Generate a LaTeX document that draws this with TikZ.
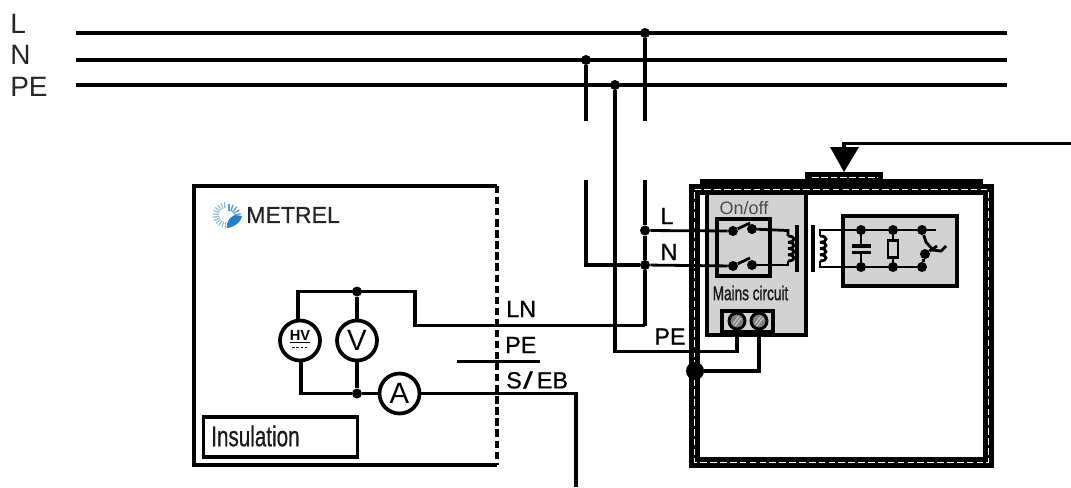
\documentclass[tikz,border=0pt]{standalone}
\usepackage{fontspec}
\setmainfont{Liberation Sans}
\newfontfamily\heavy[FakeBold=1.2]{Liberation Sans}
\newfontfamily\semi[FakeBold=0.7]{Liberation Sans}
\definecolor{boxgray}{HTML}{D2D2D2}
\definecolor{logoblue}{HTML}{1F7FCB}
\definecolor{logolight}{HTML}{8FBFE0}
\tikzset{
  px/.style={x=0.75pt,y=-0.75pt},
  bus/.style={line width=3.4pt},
  wire/.style={line width=2.7pt,line join=miter},
  thin wire/.style={line width=2.1pt},
  jdot/.style={circle,fill=black,inner sep=0pt,minimum size=7.5pt},
  sdot/.style={circle,fill=black,inner sep=0pt,minimum size=7.5pt},
  meter/.style={circle,draw=black,line width=2.8pt,fill=white,minimum size=30pt,inner sep=0pt},
  lbl/.style={inner sep=0pt,font=\semi\fontsize{17.5}{18}\selectfont},
  busl/.style={inner sep=0pt,anchor=west,text=black!85,font=\fontsize{21}{22}\selectfont},
  grayfield/.style={fill=boxgray,draw=black,line width=2.4pt},
  shield/.style={line width=8.25pt,draw=black,line join=miter},
  shieldw/.style={line width=1.2pt,draw=white,dash pattern=on 5pt off 2.4pt},
  terminal/.style={circle,draw=black,line width=2.2pt,fill=gray,minimum size=12pt,inner sep=0pt},
}
\begin{document}
\begin{tikzpicture}[px]
\useasboundingbox (0,0) rectangle (1071,487);
% bus labels
\node[busl] (tL) at (10,23.5) {L};
\node[busl] (tN) at (10,55) {N};
\node[busl] (tPE) at (10,87) {PE};
% bus
\coordinate (Ls) at (76,33); \coordinate (Le) at (1007,33);
\coordinate (Ns) at (76,60); \coordinate (Ne) at (1007,60);
\coordinate (Ps) at (76,85); \coordinate (Pe) at (1007,85);
\draw[bus] (Ls) -- (Le);
\draw[bus] (Ns) -- (Ne);
\draw[bus] (Ps) -- (Pe);
\node[sdot] (jL) at (645,33) {};
\node[sdot] (jN) at (586,60) {};
\node[sdot] (jP) at (615,85) {};
\coordinate (Lb) at (645,121);
\coordinate (Nb) at (586,121);
\draw[wire] (jL) -- (Lb);
\draw[wire] (jN) -- (Nb);
% right enclosure
\coordinate (sh1) at (694.5,189.5); \coordinate (sh2) at (988.5,189.5);
\coordinate (sh3) at (988.5,462.5); \coordinate (sh4) at (694.5,462.5);
\draw[shield] (sh1) -- (sh2) -- (sh3) -- (sh4) -- cycle;
\draw[shieldw] (sh1) -- (sh2) -- (sh3) -- (sh4) -- cycle;
\fill[black] (700,179) rectangle (983,186);
% tab
\fill[black] (805,172) rectangle (883,182);
\draw[white,line width=1pt,dash pattern=on 5pt off 2pt] (812,177.5) -- (878,177.5);
% probe
\coordinate (pr) at (844,145);
\coordinate (prr) at (1071,143.5);
\fill[black] (830,147) -- (859,147) -- (844,172) -- cycle;
\draw[wire] (prr) -- (844,143.5) -- (844,150);
% mains box
\fill[boxgray] (707,195) rectangle (806,335);
\draw[line width=2.4pt] (707,193) -- (707,335) -- (806,335) -- (806,193);
\node[grayfield,minimum width=39.75pt,minimum height=42.75pt,inner sep=0pt] (onoff) at (743.5,247.5) {};
\node[grayfield,minimum width=38.25pt,minimum height=15.75pt,inner sep=0pt] (term) at (747.5,321.5) {};
\node[inner sep=0pt,text=black!70,font=\fontsize{13.5}{15}\selectfont] (onofft) at (744,208) {On/off};
\node[inner sep=0pt,text=black!90] (mct) at (750.5,293) {\scalebox{.68}[1]{\heavy\fontsize{15}{16}\selectfont Mains circuit}};
% secondary box
\node[grayfield,minimum width=85.5pt,minimum height=52.5pt,inner sep=0pt] (sec) at (900,251) {};
% left box
\coordinate (b1) at (497,186); \coordinate (b2) at (194,186);
\coordinate (b3) at (194,465); \coordinate (b4) at (497,465);
\draw[line width=3pt] (b1) -- (b2) -- (b3) -- (b4);
\draw[line width=3.5pt,dash pattern=on 5.5pt off 2.8pt] (b1) -- (b4);
% meters
\node[meter] (HV) at (300,340.5) {};
\node[meter] (V) at (357,340.5) {\fontsize{22}{22}\selectfont V};
\node[meter] (A) at (399.5,393.5) {\fontsize{22}{22}\selectfont A};
\node[inner sep=0pt,font=\fontsize{11}{12}\selectfont\bfseries] (HVt) at (300,337) {\underline{HV}};
\draw[line width=1.4pt,dash pattern=on 2pt off 1.2pt] (292,347.5) -- (309,347.5);
\node[sdot] (jt) at (357,291.5) {};
\node[sdot] (jb) at (357,393.5) {};
\coordinate (c1) at (298,291.5);
\coordinate (c2) at (415,291.5);
\coordinate (c3) at (415,325.5);
\coordinate (LNj) at (645,325.5);
\coordinate (c4) at (301,393.5);
\coordinate (c5) at (576,393.5);
\coordinate (c6) at (576,487);
\draw[wire] (HV.north -| c1) -- (c1) -- (c2) -- (c3) -- (LNj);
\draw[wire] (jt) -- (V.north);
\draw[wire] (V.south) -- (jb);
\draw[wire] (HV.south -| c4) -- (c4) -- (jb) -- (A.west);
\draw[wire] (A.east) -- (c5) -- (c6);
\coordinate (pe1) at (457,361.5); \coordinate (pe2) at (540,361.5);
\draw[wire] (pe1) -- (pe2);
% labels at the plug
\node[lbl,anchor=west] (tLN) at (506,309) {LN};
\node[lbl,anchor=west] (tPE2) at (505,345) {PE};
\node[lbl,anchor=west] (tSEB) at (506,380) {S\hspace{1pt}\scalebox{1.5}[1]{/}\hspace{3pt}EB};
% Insulation
\node[draw=black,line width=2.4pt,minimum width=116pt,minimum height=30pt,inner sep=0pt] (ins) at (280.5,437) {};
\node[inner sep=0pt,anchor=west,text=black!90] (inst) at (211,436) {\scalebox{.72}[1]{\semi\fontsize{21.5}{23}\selectfont Insulation}};
% METREL
\node[inner sep=0pt,anchor=west,text=black!85,font=\semi\fontsize{17.3}{18}\selectfont] (met) at (246,215) {METREL};
\foreach \a in {100,115,...,265}{
  \draw[logolight,line width=0.9pt] ({226+7*cos(\a)},{215-7*sin(\a)}) -- ({227+14.5*cos(\a)},{215-13*sin(\a)});
}
\foreach \a in {10,30,50,70,90}{
  \draw[logoblue!75,line width=1pt] ({229+5*cos(\a)},{216-5*sin(\a)}) -- ({229+12*cos(\a)},{216-12*sin(\a)});
}
\fill[logoblue] (227,228) .. controls (226,222) and (230,217) .. (235,215) -- (242,216) .. controls (241,222) and (235,227) .. (227,228) -- cycle;
% lower feeders
\coordinate (Lt) at (645,180); \coordinate (Nt) at (586,180);
\coordinate (Nc) at (586,265);
\node[sdot] (jLs) at (645,230.5) {};
\node[sdot] (jNs) at (645,265) {};
\coordinate (sec1t) at (788,230.5);
\coordinate (sec1b) at (788,265);
\draw[wire] (Lt) -- (jLs) -- (jNs) -- (LNj) ;
\draw[wire] (Nt) -- (Nc) -- (jNs);
\node[lbl] (tLi) at (667,216) {L};
\node[lbl] (tNi) at (669,252) {N};
\node[lbl] (tPEi) at (670,336.5) {PE};
% switches
\node[sdot] (s1) at (733,231) {};
\node[sdot] (s2) at (752,229) {};
\node[sdot] (s3) at (733,266) {};
\node[sdot] (s4) at (752,265) {};
\draw[thin wire] (jLs) -- (s1);
\draw[thin wire] (jNs) -- (s3);
\draw[thin wire] (s1) -- (750,223);
\draw[thin wire] (s3) -- (750,258);
\draw[thin wire] (s2) -- (sec1t) -- (788,236);
\draw[thin wire] (s4) -- (sec1b) -- (788,261);
\foreach \i in {0,...,3}{
  \draw[thin wire] (788,{236+6.25*\i}) .. controls (796,{236+6.25*\i}) and (796,{242.25+6.25*\i}) .. (788,{242.25+6.25*\i});
}
\coordinate (bar1a) at (797,225); \coordinate (bar1b) at (797,272);
\coordinate (bar2a) at (813,225); \coordinate (bar2b) at (813,272);
\draw[line width=3pt] (bar1a) -- (bar1b);
\draw[line width=3pt] (bar2a) -- (bar2b);
\coordinate (coil2t) at (820,236); \coordinate (coil2b) at (820,261);
\foreach \i in {0,...,3}{
  \draw[thin wire] (820,{236+6.25*\i}) .. controls (828,{236+6.25*\i}) and (828,{242.25+6.25*\i}) .. (820,{242.25+6.25*\i});
}
% secondary circuit
\node[sdot] (d1) at (861,230) {};
\node[sdot] (d2) at (893,230) {};
\node[sdot] (d3) at (922,230) {};
\node[sdot] (d4) at (861,267) {};
\node[sdot] (d5) at (893,267) {};
\node[sdot] (d6) at (922,267) {};
\coordinate (endT) at (936,230);
\draw[thin wire] (coil2t) -- (820,230) -- (d1) -- (d2) -- (d3) -- (endT);
\draw[thin wire] (coil2b) -- (820,267) -- (d4) -- (d5) -- (d6);
% capacitor
\draw[thin wire] (d1) -- (861,246);
\draw[thin wire] (d4) -- (861,252);
\draw[wire] (852,246) -- (871,246);
\draw[wire] (852,252.5) -- (871,252.5);
% resistor
\draw[thin wire] (d2) -- (d5);
\node[draw=black,line width=2pt,fill=boxgray,minimum width=7.5pt,minimum height=13pt,inner sep=0pt] (res) at (893,249) {};
% thermal switch
\node[sdot] (d7) at (925,254) {};
\draw[thin wire] (d3) -- (926,242) -- (933,250);
\draw[thin wire] (d6) -- (d7) -- (937,246);
\draw[thin wire] (932,250) -- (941,251) -- (946,246);
% terminals
\node[terminal] (t1) at (737,321) {};
\node[terminal] (t2) at (759,321) {};
\foreach \x in {737,759}{
  \draw[white!75!black,line width=1pt] (\x-4,324) -- (\x+2,316);
  \draw[white!75!black,line width=1pt] (\x-2,326) -- (\x+4,318);
}
% PE wiring
\node[jdot,minimum size=13.5pt] (jG) at (695,371) {};
\coordinate (pa) at (615,351.5);
\coordinate (pb) at (737,351.5);
\coordinate (pc) at (759,371);
\draw[wire] (jP) -- (pa) -- (pb) -- (t1.south);
\draw[wire] (jG) -- (pc) -- (t2.south);
\end{tikzpicture}
\end{document}
